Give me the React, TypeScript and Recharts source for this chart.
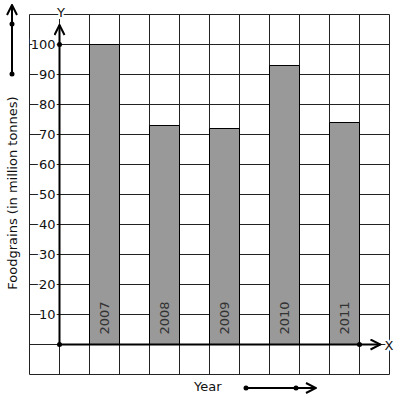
import React from "react";
import {
  Bar,
  ComposedChart,
  CartesianGrid,
  LabelList,
  ReferenceDot,
  ReferenceLine,
  XAxis,
  YAxis,
} from "recharts";

const YEARS = ["2007", "2008", "2009", "2010", "2011"];
const FOODGRAINS = [100, 73, 72, 93, 74];
const Y_TICKS = [-10, 0, 10, 20, 30, 40, 50, 60, 70, 80, 90, 100, 110];
const Y_LABELS = [10, 20, 30, 40, 50, 60, 70, 80, 90, 100];
const GRID_X_TICKS = [-1, 0, 1, 2, 3, 4, 5, 6, 7, 8, 9, 10, 11];

const data = YEARS.map((year, i) => ({ year, value: FOODGRAINS[i] }));

// each year sits in every other grid column, to the right of the Y axis
const yearSlot = (d: { year: string }) => YEARS.indexOf(d.year) * 2 + 1.5;

const FONT = "'DejaVu Sans', sans-serif";

function renderYTick(props: any) {
  const { x, y, payload } = props;
  if (!Y_LABELS.includes(payload.value)) return <g />;
  return (
    <text
      x={x + 26}
      y={y}
      dy={4.5}
      textAnchor="end"
      fontSize={13}
      fontFamily={FONT}
      fill="#111"
      stroke="#fff"
      strokeWidth={4}
      paintOrder="stroke"
    >
      {payload.value}
    </text>
  );
}

function YearLabel(props: any) {
  const { x, y, width, height, value } = props;
  const cx = x + width / 2;
  const by = y + height - 10;
  return (
    <text
      x={cx}
      y={by}
      dy={4.5}
      transform={`rotate(-90 ${cx} ${by})`}
      textAnchor="start"
      fontSize={13}
      fontFamily={FONT}
      fill="#333"
    >
      {value}
    </text>
  );
}

function ArrowLine(props: any) {
  const { x1, y1, x2, y2, id } = props;
  return (
    <g>
      <defs>
        <marker
          id={id}
          viewBox="0 0 12 12"
          refX={11}
          refY={6}
          markerWidth={12}
          markerHeight={12}
          markerUnits="userSpaceOnUse"
          orient="auto"
        >
          <path d="M1,1 L11,6 L1,11" fill="none" stroke="#000" strokeWidth={2} />
        </marker>
      </defs>
      <line x1={x1} y1={y1} x2={x2} y2={y2} stroke="#000" strokeWidth={2} markerEnd={`url(#${id})`} />
    </g>
  );
}

export default function App() {
  return (
    <div style={{ position: "absolute", left: 0, top: 0, width: 397, height: 401, background: "#fff" }}>
      <ComposedChart
        width={397}
        height={401}
        data={data}
        margin={{ top: 14.5, left: 0, right: 7.5, bottom: 26.5 }}
      >
        <XAxis
          dataKey={yearSlot}
          type="number"
          domain={[-1, 11]}
          allowDataOverflow
          ticks={GRID_X_TICKS}
          interval={0}
          hide
        />
        <YAxis
          type="number"
          domain={[-10, 110]}
          allowDataOverflow
          ticks={Y_TICKS}
          width={29.5}
          axisLine={false}
          tickLine={false}
          tickSize={0}
          tickMargin={0}
          tick={renderYTick}
          interval={0}
        />
        <CartesianGrid stroke="#222" strokeWidth={1} strokeOpacity={1} />
        <Bar dataKey="value" fill="#999999" stroke="#000" strokeWidth={1} barSize={30} isAnimationActive={false}>
          <LabelList dataKey="year" content={<YearLabel />} />
        </Bar>
        <ReferenceLine
          segment={[{ x: 0, y: 0 }, { x: 0, y: 106.5 }]}
          shape={(p: any) => <ArrowLine {...p} id="arrowY" />}
        />
        <ReferenceLine
          segment={[{ x: 0, y: 0 }, { x: 10.7, y: 0 }]}
          shape={(p: any) => <ArrowLine {...p} id="arrowX" />}
        />
        <ReferenceDot x={0} y={100} r={2.5} fill="#000" stroke="none" />
        <ReferenceDot x={0} y={0} r={2.5} fill="#000" stroke="none" />
        <ReferenceDot x={10} y={0} r={2.5} fill="#000" stroke="none" />
      </ComposedChart>
      <svg
        width={397}
        height={401}
        style={{ position: "absolute", left: 0, top: 0, pointerEvents: "none" }}
        fontFamily={FONT}
      >
        <defs>
          <marker id="arrowDeco" viewBox="0 0 12 12" refX={11} refY={6} markerWidth={12} markerHeight={12} markerUnits="userSpaceOnUse" orient="auto">
            <path d="M1,1 L11,6 L1,11" fill="none" stroke="#000" strokeWidth={2} />
          </marker>
        </defs>
        <text x={61} y={12} dy={4.5} textAnchor="middle" fontSize={13} fill="#111" stroke="#fff" strokeWidth={4} paintOrder="stroke">
          Y
        </text>
        <text x={389} y={345} dy={4.5} textAnchor="middle" fontSize={13} fill="#111" stroke="#fff" strokeWidth={4} paintOrder="stroke">
          X
        </text>
        <text x={12} y={193} dy={4.5} transform="rotate(-90 12 193)" textAnchor="middle" fontSize={13} fill="#111">
          Foodgrains (in million tonnes)
        </text>
        <text x={194} y={391} fontSize={13} fill="#111">
          Year
        </text>
        <line x1={12} y1={74} x2={12} y2={5} stroke="#000" strokeWidth={2} markerEnd="url(#arrowDeco)" />
        <circle cx={12} cy={24} r={2.5} fill="#000" />
        <circle cx={12} cy={74} r={2.5} fill="#000" />
        <line x1={246} y1={388} x2={316} y2={388} stroke="#000" strokeWidth={2} markerEnd="url(#arrowDeco)" />
        <circle cx={246} cy={388} r={2.5} fill="#000" />
        <circle cx={296} cy={388} r={2.5} fill="#000" />
      </svg>
    </div>
  );
}
